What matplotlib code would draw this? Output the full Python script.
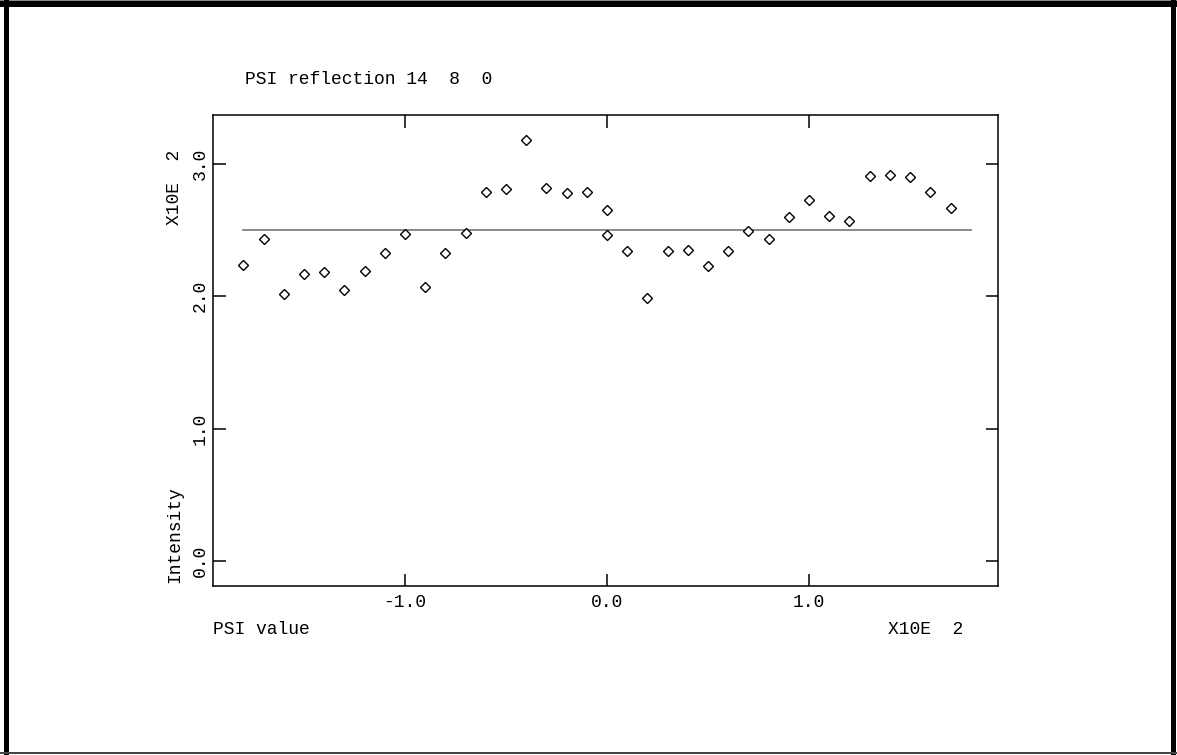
import matplotlib
matplotlib.use('Agg')
import matplotlib.pyplot as plt
from matplotlib.patches import Rectangle

# psi scan, x in units of 10^2
psi = [-1.8, -1.7, -1.6, -1.5, -1.4, -1.3, -1.2, -1.1, -1.0, -0.9,
       -0.8, -0.7, -0.6, -0.5, -0.4, -0.3, -0.2, -0.1, 0.0, 0.0,
       0.1, 0.2, 0.3, 0.4, 0.5, 0.6, 0.7, 0.8, 0.9, 1.0,
       1.1, 1.2, 1.3, 1.4, 1.5, 1.6, 1.7]
intensity = [2.24, 2.43, 2.02, 2.17, 2.18, 2.05, 2.19, 2.33, 2.47, 2.07,
             2.33, 2.48, 2.79, 2.81, 3.18, 2.82, 2.78, 2.79, 2.65, 2.46,
             2.34, 1.99, 2.34, 2.35, 2.23, 2.34, 2.49, 2.43, 2.60, 2.73,
             2.61, 2.57, 2.91, 2.92, 2.90, 2.79, 2.67]
mean_x = [-1.8, 1.8]
mean_y = [2.50, 2.50]

xticks = [-1.0, 0.0, 1.0]
yticks = [0.0, 1.0, 2.0, 3.0]

W, H = 1177, 755
plt.rcParams['font.family'] = ['Liberation Mono', 'DejaVu Sans Mono']
fig = plt.figure(figsize=(W / 100, H / 100), dpi=100)

# window frame
fig.add_artist(Rectangle((0, 1 - 7 / H), 1, 6 / H, transform=fig.transFigure, color='black', lw=0))
fig.add_artist(Rectangle((0, 1 - 1 / H), 1, 1 / H, transform=fig.transFigure, color='#888888', lw=0))
fig.add_artist(Rectangle((4 / W, 0), 5 / W, 1, transform=fig.transFigure, color='black', lw=0))
fig.add_artist(Rectangle((1171 / W, 0), 5 / W, 1, transform=fig.transFigure, color='black', lw=0))
fig.add_artist(Rectangle((0, 1 / H), 1, 2 / H, transform=fig.transFigure, color='#444444', lw=0))

ax = fig.add_axes([213 / W, 1 - 586 / H, (998 - 213) / W, (586 - 115) / H])
ax.plot(mean_x, mean_y, color='#808080', lw=1.3)
ax.plot(psi, intensity, linestyle='none', marker='D', ms=5, mfc='white', mec='black', mew=1)

ax.set_xlim(-1.95, 1.935)
ax.set_ylim(-0.19, 3.37)
ax.set_xticks(xticks)
ax.set_xticklabels(['%.1f' % v for v in xticks])
ax.set_yticks(yticks)
ax.set_yticklabels(['%.1f' % v for v in yticks], rotation=90, va='center')
ax.tick_params(direction='in', length=9, width=1.1, top=True, right=True,
               labelsize=13, pad=6)
ax.tick_params(axis='y', pad=3)
for s in ax.spines.values():
    s.set_linewidth(1.1)

fs = 13
fig.text(245 / W, 1 - 84 / H, 'PSI reflection 14  8  0', fontsize=fs, va='baseline')
fig.text(213 / W, 1 - 634 / H, 'PSI value', fontsize=fs, va='baseline')
fig.text(963 / W, 1 - 634 / H, 'X10E  2', fontsize=fs, va='baseline', ha='right')
fig.text(183 / W, 1 - 150 / H, 'X10E  2', fontsize=fs, rotation=90, ha='right', va='top')
fig.text(183 / W, 1 - 583 / H, 'Intensity', fontsize=fs, rotation=90, ha='right', va='bottom')

fig.savefig('out.png', dpi=100)
